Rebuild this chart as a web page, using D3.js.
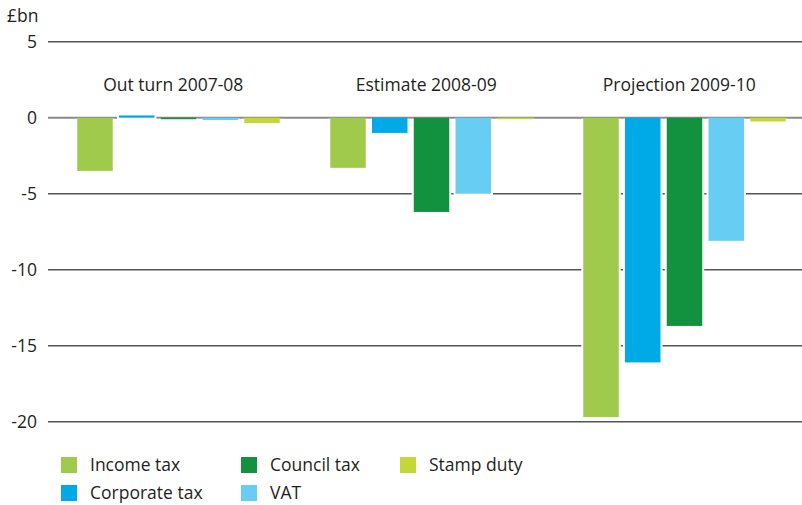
<!DOCTYPE html>
<head>
  <meta charset="utf-8">
  <style>
    body { margin: 0; background: #fff; }
    svg text { font-family: "Open Sans", "Noto Sans", sans-serif; fill: #231f20; font-size: 17.5px; }
    svg .grid { stroke: #555; stroke-width: 1.5px; }
    svg .zero { stroke: #8a8a8a; stroke-width: 2px; }
  </style>
</head>
<body>
<script src="https://d3js.org/d3.v7.min.js"></script>
<script>
  // data (in £bn)
  var periods = ["Out turn 2007-08", "Estimate 2008-09", "Projection 2009-10"];
  var taxes = ["Income tax", "Corporate tax", "Council tax", "VAT", "Stamp duty"];
  var incomeTax    = [-3.5, -3.3, -19.7];
  var corporateTax = [0.15, -1.0, -16.1];
  var councilTax   = [-0.1, -6.2, -13.7];
  var vat          = [-0.15, -5.0, -8.1];
  var stampDuty    = [-0.35, -0.1, -0.25];
  var yTicks = [5, 0, -5, -10, -15, -20];

  var colors = ["#9fca4c", "#00aae6", "#12923e", "#68cdf2", "#c3d835"];
  var series = [incomeTax, corporateTax, councilTax, vat, stampDuty];

  var width = 802, height = 505;
  var svg = d3.select("body").append("svg")
      .attr("width", width)
      .attr("height", height);

  var yScale = d3.scaleLinear().domain([-20, 5]).range([421.7, 41.7]);
  var x0 = d3.scaleBand().domain(periods).range([52, 811]);
  var x1 = d3.scaleBand().domain(taxes).range([0, 202.5]).paddingInner(0.15);

  // horizontal grid lines
  svg.selectAll("line.grid")
    .data(yTicks.filter(function (d) { return d !== 0; }))
    .enter().append("line")
      .attr("class", "grid")
      .attr("x1", 48).attr("x2", 802)
      .attr("y1", function (d) { return yScale(d); })
      .attr("y2", function (d) { return yScale(d); });

  svg.append("line")
      .attr("class", "zero")
      .attr("x1", 48).attr("x2", 802)
      .attr("y1", yScale(0)).attr("y2", yScale(0));

  // tick labels
  svg.selectAll("text.tick")
    .data(yTicks)
    .enter().append("text")
      .attr("class", "tick")
      .attr("x", 37)
      .attr("y", function (d) { return yScale(d); })
      .attr("dy", "0.35em")
      .attr("text-anchor", "end")
      .text(function (d) { return d; });

  svg.append("text")
      .attr("x", 7).attr("y", 22)
      .text("£bn");

  // bars
  var groups = svg.selectAll("g.period")
    .data(periods)
    .enter().append("g")
      .attr("class", "period")
      .attr("transform", function (d) {
        return "translate(" + (x0(d) + (x0.bandwidth() - 202.5) / 2) + ",0)";
      });

  var barData = function (p, i) {
    return taxes.map(function (t, j) { return { tax: t, value: series[j][i], color: colors[j] }; });
  };

  // white gap behind each bar where grid lines cross
  groups.selectAll("rect.gap")
    .data(barData)
    .enter().append("rect")
      .attr("class", "gap")
      .attr("x", function (d) { return x1(d.tax) - 2; })
      .attr("width", x1.bandwidth() + 4)
      .attr("y", function (d) { return yScale(Math.max(0, d.value)) + 1; })
      .attr("height", function (d) { return Math.max(0, Math.abs(yScale(d.value) - yScale(0)) + 1); })
      .style("fill", "#fff");

  groups.selectAll("rect.bar")
    .data(barData)
    .enter().append("rect")
      .attr("class", "bar")
      .attr("x", function (d) { return x1(d.tax); })
      .attr("width", x1.bandwidth())
      .attr("y", function (d) { return yScale(Math.max(0, d.value)); })
      .attr("height", function (d) { return Math.abs(yScale(d.value) - yScale(0)); })
      .style("fill", function (d) { return d.color; });

  groups.append("text")
      .attr("x", 96)
      .attr("y", 91)
      .attr("text-anchor", "middle")
      .text(function (d) { return d; });

  // legend
  var legendPos = [[61, 457], [61, 485], [241, 457], [241, 485], [400, 457]];
  var legendOrder = ["Income tax", "Corporate tax", "Council tax", "VAT", "Stamp duty"];
  var legend = svg.selectAll("g.legend")
    .data(legendOrder)
    .enter().append("g")
      .attr("class", "legend")
      .attr("transform", function (d, i) {
        return "translate(" + legendPos[i][0] + "," + legendPos[i][1] + ")";
      });

  legend.append("rect")
      .attr("width", 16).attr("height", 16)
      .style("fill", function (d) { return colors[taxes.indexOf(d)]; });

  legend.append("text")
      .attr("x", 29).attr("y", 14)
      .text(function (d) { return d; });
</script>
</body>
</html>
